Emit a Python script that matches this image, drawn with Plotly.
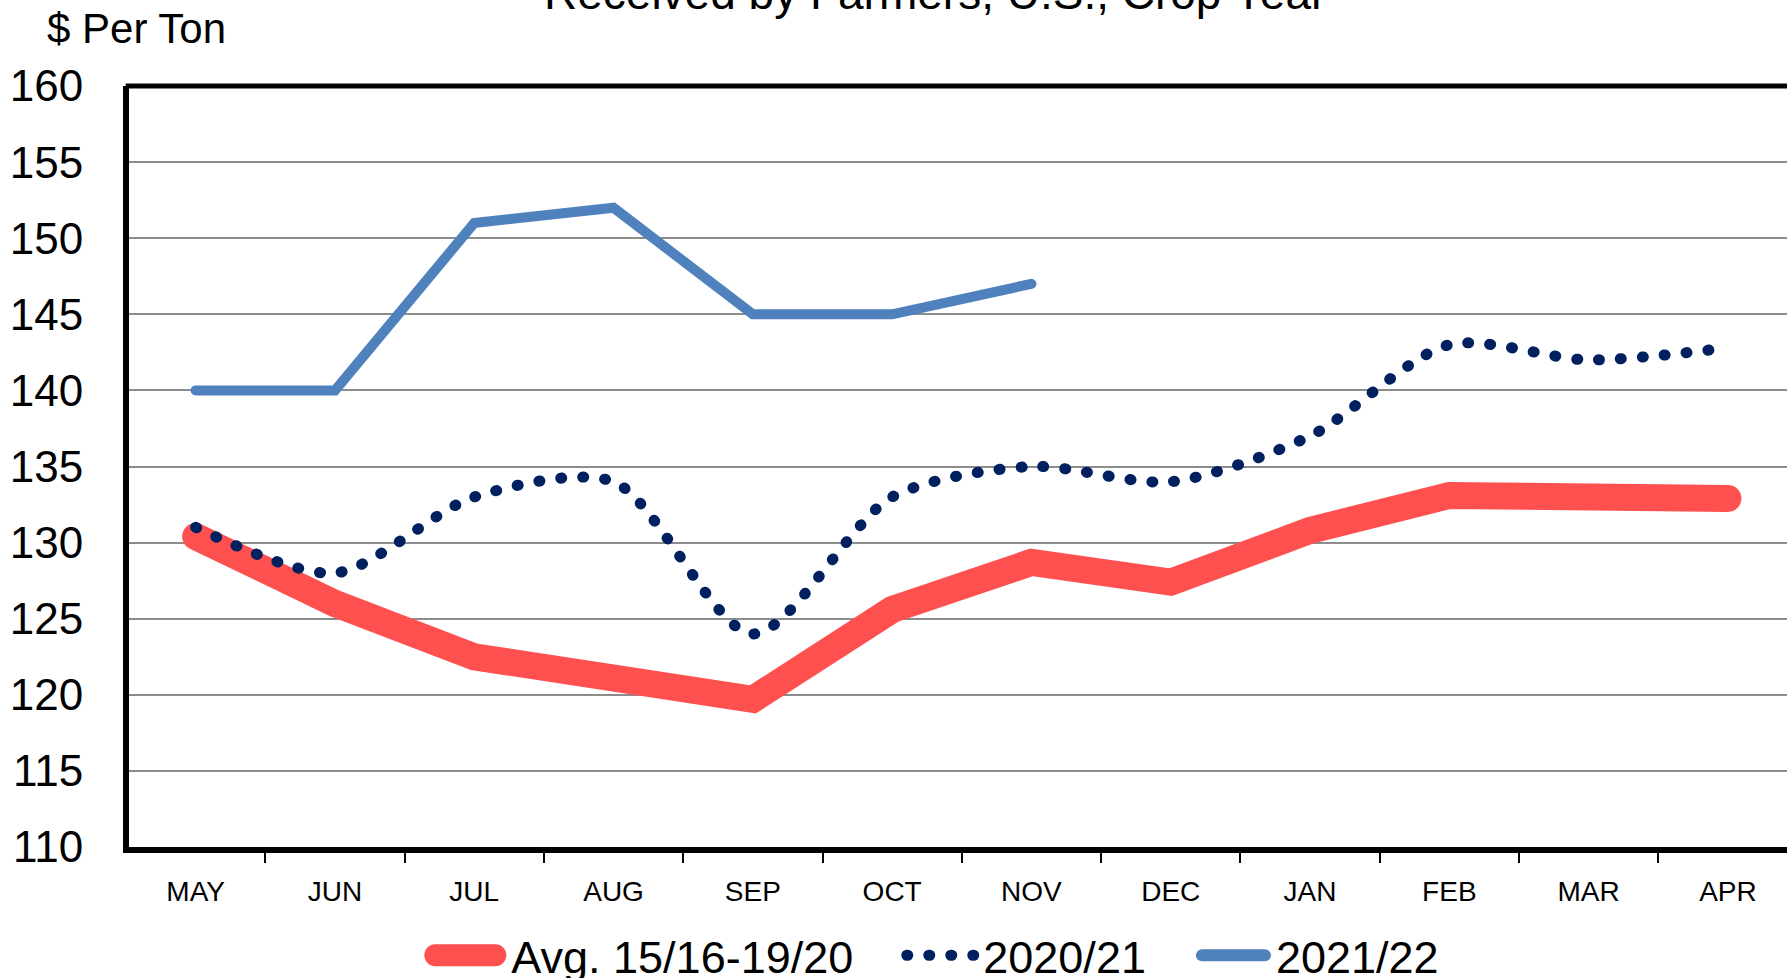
import plotly.graph_objects as go

months = ["MAY", "JUN", "JUL", "AUG", "SEP", "OCT", "NOV", "DEC", "JAN", "FEB", "MAR", "APR"]
avg_15_20 = [130.4, 126.0, 122.5, 121.0, 119.7, 125.6, 128.7, 127.4, 130.8, 133.1, 132.9, 132.9]
y2020_21 = [131.0, 128.0, 133.0, 134.0, 124.0, 133.0, 135.0, 134.0, 137.0, 143.0, 142.0, 142.8]
y2021_22 = [140.0, 140.0, 151.0, 152.0, 145.0, 145.0, 147.0]
y_ticks = [110, 115, 120, 125, 130, 135, 140, 145, 150, 155, 160]

FONT = "Liberation Sans, Arial, sans-serif"
PAD = "\u2002\u00a0"

fig = go.Figure()
fig.add_trace(go.Scatter(x=months, y=avg_15_20, mode="lines", name="Avg. 15/16-19/20" + PAD,
                         line=dict(color="#FF5050", width=27)))
fig.add_trace(go.Scatter(x=months, y=y2020_21, mode="lines", name="2020/21" + PAD,
                         line=dict(color="#002060", width=11, dash="1px,21px", shape="spline", smoothing=0.8)))
fig.add_trace(go.Scatter(x=months[:len(y2021_22)], y=y2021_22, mode="lines", name="2021/22",
                         line=dict(color="#4F81BD", width=10)))

fig.update_layout(
    width=1787, height=978,
    margin=dict(l=129, r=0, t=86, b=131, autoexpand=False),
    paper_bgcolor="white", plot_bgcolor="white",
    font=dict(family=FONT, color="black"),
    showlegend=True,
    legend=dict(orientation="h", xref="container", yref="container",
                x=0.522, xanchor="center", y=0.023, yanchor="middle",
                font=dict(size=45, family=FONT), itemwidth=80, bgcolor="rgba(0,0,0,0)"),
    annotations=[
        dict(text="Received by Farmers, U.S., Crop Year", xref="paper", yref="paper",
             x=0.486, y=1.1222, xanchor="center", yanchor="middle", showarrow=False,
             font=dict(size=46, family=FONT)),
        dict(text="$ Per Ton", xref="paper", yref="paper", x=-0.0507, y=1.076,
             xanchor="left", yanchor="middle", showarrow=False, font=dict(size=42, family=FONT)),
    ],
    shapes=[dict(type="line", xref="paper", yref="paper", x0=-0.002, x1=1, y0=1, y1=1,
                 line=dict(color="black", width=5))],
)
fig.update_xaxes(type="category", range=[-0.4785, 11.424], showgrid=False, automargin=False,
                 showline=True, linecolor="black", linewidth=6,
                 tickson="boundaries", ticks="outside", ticklen=10, tickwidth=2, tickcolor="black",
                 tickfont=dict(size=28, family=FONT), ticklabelstandoff=14, zeroline=False)
fig.update_yaxes(range=[110, 160], tickvals=y_ticks, showgrid=True, gridcolor="#8C8C8C", gridwidth=2,
                 showline=True, linecolor="black", linewidth=6, ticks="", automargin=False,
                 tickfont=dict(size=44, family=FONT), ticklabelstandoff=31, zeroline=False)

post = """
document.body.style.margin = '0';
document.body.style.overflow = 'hidden';
var gd = document.getElementById('{plot_id}');
var lw = [22, 11, 12];
var vis = [82, 77, 75];
function rc(){
  gd.querySelectorAll('path.js-line').forEach(function(p){p.style.strokeLinecap='round';});
  gd.querySelectorAll('.legend .traces').forEach(function(t, i){
    var txt = t.querySelector('text.legendtext');
    var tx = txt ? parseFloat(txt.getAttribute('x')) : 90;
    t.querySelectorAll('.legendlines path').forEach(function(p){
      if (!lw[i]) return;
      p.style.strokeLinecap = 'round';
      p.style.strokeWidth = lw[i] + 'px';
      var w = lw[i], V = vis[i];
      var len = (i === 1) ? 67 : (V - w);
      var x0 = tx - 5 - V + w / 2;
      p.setAttribute('d', 'M' + x0 + ',0h' + len);
    });
  });
}
rc(); gd.on('plotly_afterplot', rc);
"""
fig.write_html("out.html", post_script=post, config={"displayModeBar": False})
